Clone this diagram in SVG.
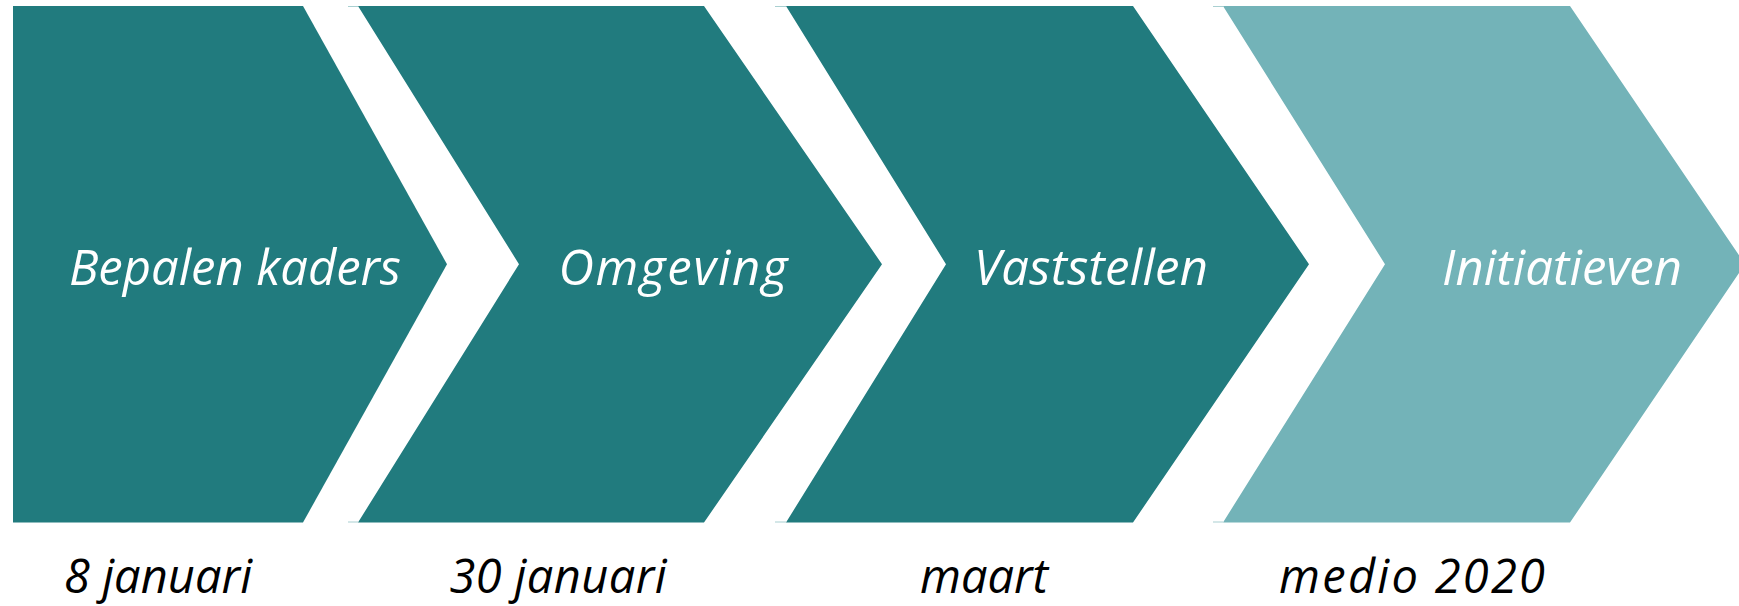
<svg xmlns="http://www.w3.org/2000/svg" width="1739" height="606" viewBox="0 0 1739 606">
<style>
.dark{fill:#217B7E}
.light{fill:#73B3B8}
.edge{stroke:#a9d0d1;stroke-width:1.2}
.lbl{font-family:"Open Sans","Lato","DejaVu Sans",sans-serif;font-style:italic;font-size:49px;fill:#ffffff;text-anchor:middle}
.date{font-family:"Open Sans","Lato","DejaVu Sans",sans-serif;font-style:italic;font-size:47px;fill:#000000;text-anchor:middle}
</style>
<rect width="1739" height="606" fill="#ffffff"/>
<g id="step1">
<path class="dark" d="M13,6 H303 L447,264.2 L303,522.5 H13 Z"/>
<text class="lbl" x="235" y="285" textLength="332" lengthAdjust="spacing">Bepalen kaders</text>
<text class="date" x="158" y="593" textLength="188" lengthAdjust="spacing">8 januari</text>
</g>
<g id="step2">
<path class="edge" d="M348,6.5 H358 M348,522 H358"/>
<path class="dark" d="M358,6 H704 L882,264.2 L704,522.5 H358 L519,264.2 Z"/>
<text class="lbl" x="673" y="285" textLength="229" lengthAdjust="spacing">Omgeving</text>
<text class="date" x="558" y="593" textLength="217" lengthAdjust="spacing">30 januari</text>
</g>
<g id="step3">
<path class="edge" d="M775,6.5 H786 M775,522 H786"/>
<path class="dark" d="M786,6 H1133 L1309,264.2 L1133,522.5 H786 L946,264.2 Z"/>
<text class="lbl" x="1091" y="285" textLength="234" lengthAdjust="spacing">Vaststellen</text>
<text class="date" x="984" y="593" textLength="128" lengthAdjust="spacing">maart</text>
</g>
<g id="step4">
<path class="edge" d="M1213,6.5 H1223 M1213,522 H1223"/>
<path class="light" d="M1223,6 H1570 L1745,264.2 L1570,522.5 H1223 L1385,264.2 Z"/>
<text class="lbl" x="1562" y="285" textLength="240" lengthAdjust="spacing">Initiatieven</text>
<text class="date" x="1412" y="593" textLength="266" lengthAdjust="spacing">medio 2020</text>
</g>
<g id="connectors"></g>
</svg>
